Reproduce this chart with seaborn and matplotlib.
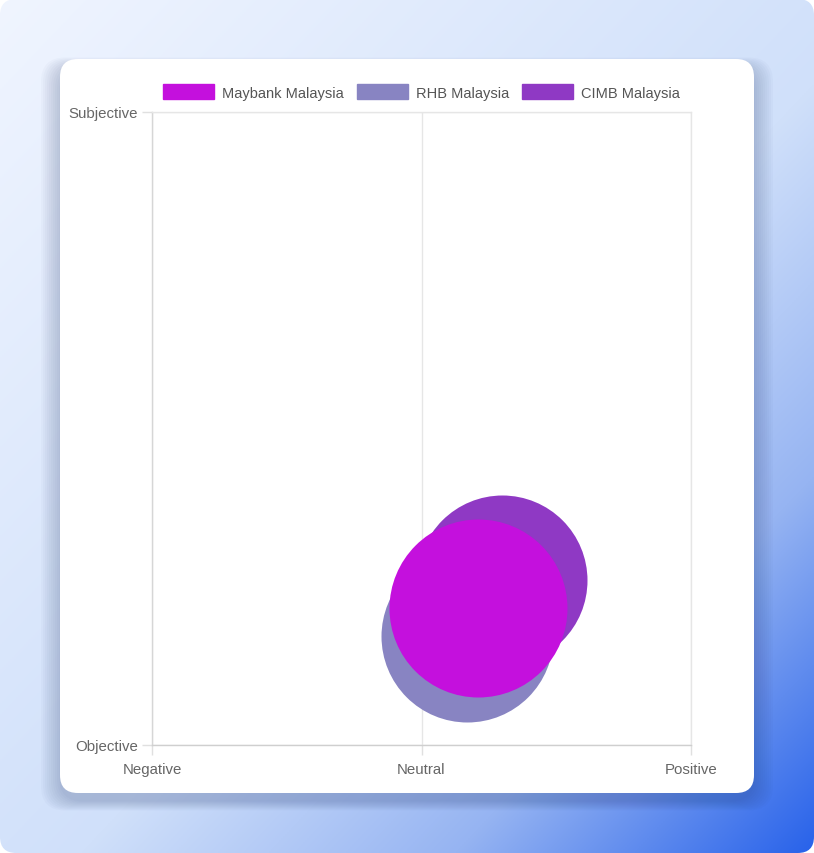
import numpy as np
import pandas as pd
import matplotlib
matplotlib.use("Agg")
import matplotlib.pyplot as plt
import seaborn as sns
from matplotlib.patches import FancyBboxPatch, Patch

# sentiment data per bank
banks = ['Maybank Malaysia', 'RHB Malaysia', 'CIMB Malaysia']
polarity = [0.21, 0.17, 0.30]
subjectivity = [0.217, 0.172, 0.26]
bubble_r = [89, 86, 85]  # bubble radius (px)
colors = ['#C410DD', '#8884C2', '#8F39C4']

x_ticks = [-1, 0, 1]
x_labels = ['Negative', 'Neutral', 'Positive']
y_ticks = [0, 1]
y_labels = ['Objective', 'Subjective']

W, H, DPI = 814, 854, 100

df = pd.DataFrame({'bank': banks, 'polarity': polarity,
                   'subjectivity': subjectivity, 'r': bubble_r})

sns.set_theme(style="white")
plt.rcParams['font.family'] = ['Liberation Sans', 'DejaVu Sans']

fig = plt.figure(figsize=(W / DPI, H / DPI), dpi=DPI)
fig.patch.set_facecolor('white')


def fx(px):
    return px / W


def fy(py):
    return 1 - py / H


# page background gradient
bg = fig.add_axes([0, 0, 1, 1])
bg.set_axis_off()
gx, gy = np.meshgrid(np.linspace(0, 1, 400), np.linspace(0, 1, 400))
t = (gx + gy) / 2
stops_t = [0.0, 0.55, 0.78, 1.0]
stops_c = np.array([[240, 245, 255], [208, 224, 250], [150, 180, 242], [40, 98, 234]]) / 255
img = np.zeros((400, 400, 3))
for c in range(3):
    img[..., c] = np.interp(t, stops_t, stops_c[:, c])
im = bg.imshow(img, extent=[0, 1, 1, 0], aspect='auto')
bg.set_xlim(0, 1)
bg.set_ylim(1, 0)
clip = FancyBboxPatch((0, 0), 1, 1, boxstyle="round,pad=0,rounding_size=0.02",
                      transform=bg.transAxes, facecolor='none', edgecolor='none',
                      mutation_aspect=W / H)
bg.add_patch(clip)
im.set_clip_path(clip)

# card shadow + card
cx0, cy0, cx1, cy1 = 60, 60, 754, 794
for i in range(10):
    grow = 1 + i * 2.0
    bg.add_patch(FancyBboxPatch(
        (fx(cx0 - grow), fy(cy1 + 8 + grow * 0.5)), fx(cx1 - cx0 + 2 * grow),
        (cy1 - cy0 + grow * 1.0) / H,
        boxstyle="round,pad=0,rounding_size=0.03", transform=fig.transFigure,
        facecolor=(0.1, 0.18, 0.4), edgecolor='none', alpha=0.022,
        mutation_aspect=W / H))
bg.add_patch(FancyBboxPatch(
    (fx(cx0), fy(cy1)), fx(cx1 - cx0), (cy1 - cy0) / H,
    boxstyle="round,pad=0,rounding_size=0.022", transform=fig.transFigure,
    facecolor='white', edgecolor='none', mutation_aspect=W / H))

# plot area
left, right, top, bottom = 152, 691, 113, 746
ax = fig.add_axes([fx(left), fy(bottom), fx(right - left), (bottom - top) / H])
ax.set_facecolor('none')

px2pt = 72 / DPI
# draw in reverse order so the first dataset ends up on top
for b in banks[::-1]:
    sub = df[df['bank'] == b]
    r = sub['r'].iloc[0]
    sns.scatterplot(data=sub, x='polarity', y='subjectivity',
                    color=colors[banks.index(b)], s=(2 * r * px2pt) ** 2,
                    ax=ax, legend=False, linewidth=0, zorder=3)

ax.set_xlim(-1, 1)
ax.set_ylim(0, 1)
ax.set_xticks(x_ticks)
ax.set_xticklabels(x_labels)
ax.set_yticks(y_ticks)
ax.set_yticklabels(y_labels)
ax.set_xlabel('')
ax.set_ylabel('')
ax.grid(True, color='#e6e6e6', linewidth=1)
ax.set_axisbelow(True)
for s in ['top', 'right']:
    ax.spines[s].set_color('#e6e6e6')
    ax.spines[s].set_linewidth(1)
ax.spines['left'].set_color('#d6d6d6')
ax.spines['bottom'].set_color('#cfcfcf')
ax.spines['left'].set_linewidth(1)
ax.spines['bottom'].set_linewidth(1)
ax.tick_params(axis='both', which='both', length=7, width=1, color='#e0e0e0',
               labelcolor='#666666', labelsize=10.8, pad=3)
ax.tick_params(axis='x', pad=5, direction='out', bottom=True)
ax.tick_params(axis='y', direction='out', left=True)

handles = [Patch(facecolor=c, edgecolor=c, label=b) for b, c in zip(banks, colors)]
fig.legend(handles=handles, loc='center', bbox_to_anchor=(fx(421.5), fy(93)),
           ncol=3, frameon=False, fontsize=10.5, handlelength=3.5,
           handleheight=1.2, handletextpad=0.55, columnspacing=0.9,
           labelcolor='#555555')

fig.savefig('out.png', dpi=DPI)
